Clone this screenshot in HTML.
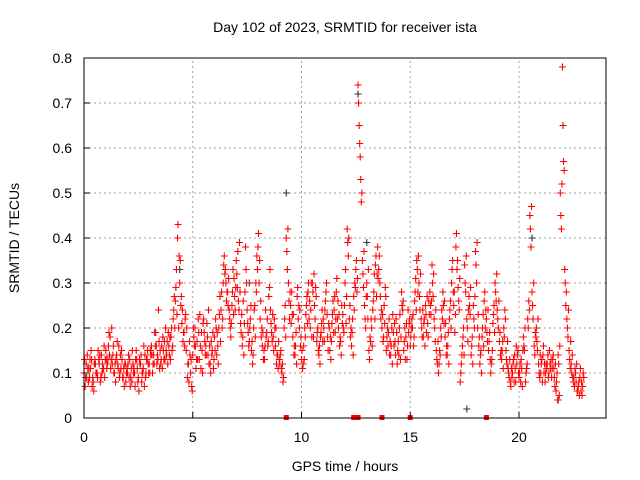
<!DOCTYPE html>
<html><head><meta charset="utf-8">
<style>
html,body{margin:0;padding:0;background:#fff;}
svg{display:block;font-family:"Liberation Sans",sans-serif;}
</style></head>
<body>
<svg id="chart" width="640" height="480" viewBox="0 0 640 480" xmlns="http://www.w3.org/2000/svg">
<rect width="640" height="480" fill="#fff"/>
<text x="345" y="32" font-size="14" text-anchor="middle">Day 102 of 2023, SRMTID for receiver ista</text>
<text x="345" y="471" font-size="14" text-anchor="middle">GPS time / hours</text>
<text x="19" y="238" font-size="14" text-anchor="middle" transform="rotate(-90 19 238)">SRMTID / TECUs</text>
<g id="grid"></g>
<g id="marks"></g>
<rect x="84" y="58" width="522" height="360" fill="none" stroke="#000" stroke-width="1"/>
<g id="axes"></g>
</svg>
<script>
const xTicks=[0,5,10,15,20];
const yTicks=[0,0.1,0.2,0.3,0.4,0.5,0.6,0.7,0.8];
const yTickLabels=["0","0.1","0.2","0.3","0.4","0.5","0.6","0.7","0.8"];
const valuesA=[0.10,0.12,0.08,0.11,0.09,0.13,0.10,0.12,0.14,0.11,
0.15,0.13,0.18,0.12,0.10,0.14,0.16,0.11,0.09,0.12,
0.10,0.13,0.08,0.11,0.15,0.09,0.12,0.10,0.14,0.13,
0.12,0.16,0.14,0.19,0.13,0.15,0.11,0.17,0.14,0.16,
0.18,0.22,0.26,0.40,0.30,0.21,0.19,0.15,0.12,0.10,
0.14,0.20,0.17,0.13,0.19,0.22,0.16,0.14,0.12,0.15,
0.18,0.14,0.20,0.24,0.30,0.33,0.28,0.22,0.25,0.31,
0.35,0.26,0.21,0.18,0.28,0.24,0.17,0.15,0.20,0.30,
0.38,0.22,0.16,0.13,0.19,0.27,0.21,0.18,0.16,0.14,
0.12,0.10,0.20,0.40,0.30,0.25,0.18,0.14,0.27,0.20,
0.13,0.16,0.23,0.28,0.20,0.30,0.25,0.17,0.14,0.19,
0.22,0.26,0.18,0.15,0.21,0.24,0.28,0.20,0.17,0.23,
0.30,0.42,0.22,0.16,0.27,0.33,0.74,0.58,0.35,0.25,
0.30,0.15,0.22,0.26,0.34,0.38,0.30,0.20,0.25,0.15,
0.19,0.14,0.23,0.17,0.12,0.20,0.28,0.15,0.18,0.24,
0.16,0.20,0.26,0.35,0.30,0.22,0.18,0.25,0.21,0.28,
0.34,0.22,0.15,0.10,0.20,0.28,0.18,0.14,0.22,0.30,
0.25,0.38,0.29,0.08,0.16,0.34,0.22,0.27,0.14,0.25,
0.37,0.20,0.12,0.18,0.26,0.22,0.15,0.10,0.21,0.30,
0.24,0.17,0.13,0.20,0.15,0.11,0.08,0.10,0.14,0.12,
0.09,0.13,0.18,0.08,0.22,0.45,0.28,0.16,0.20,0.12,
0.10,0.14,0.08,0.12,0.15,0.09,0.11,0.06,0.14,0.50,
0.78,0.33,0.22,0.15,0.12,0.08,0.10,0.06,0.09,0.05];
const valuesB=[0.07,0.14,0.09,0.13,0.06,0.10,0.15,0.08,0.12,0.09,
0.11,0.19,0.13,0.16,0.08,0.12,0.10,0.13,0.07,0.10,
0.14,0.09,0.12,0.07,0.11,0.13,0.08,0.16,0.10,0.12,
0.15,0.10,0.19,0.12,0.17,0.13,0.15,0.20,0.12,0.18,
0.15,0.27,0.33,0.20,0.25,0.17,0.22,0.09,0.17,0.07,
0.18,0.11,0.22,0.16,0.10,0.17,0.21,0.12,0.17,0.11,
0.22,0.16,0.27,0.20,0.36,0.26,0.31,0.18,0.33,0.24,
0.29,0.39,0.23,0.14,0.33,0.19,0.22,0.12,0.25,0.36,
0.30,0.18,0.13,0.24,0.16,0.33,0.17,0.22,0.12,0.17,
0.15,0.08,0.25,0.33,0.22,0.28,0.14,0.19,0.22,0.16,
0.11,0.20,0.27,0.22,0.30,0.18,0.29,0.20,0.12,0.24,
0.17,0.30,0.21,0.13,0.26,0.19,0.22,0.16,0.25,0.19,
0.21,0.36,0.18,0.22,0.30,0.28,0.65,0.48,0.29,0.20,
0.22,0.18,0.16,0.32,0.27,0.33,0.22,0.17,0.29,0.20,
0.14,0.20,0.16,0.22,0.17,0.13,0.24,0.20,0.13,0.21,
0.20,0.16,0.31,0.28,0.24,0.18,0.22,0.19,0.26,0.23,
0.27,0.17,0.12,0.15,0.24,0.21,0.14,0.19,0.26,0.35,
0.19,0.33,0.24,0.12,0.20,0.28,0.17,0.23,0.18,0.20,
0.30,0.16,0.15,0.23,0.20,0.17,0.19,0.13,0.25,0.26,
0.20,0.14,0.17,0.24,0.12,0.09,0.11,0.13,0.08,0.15,
0.12,0.07,0.15,0.11,0.26,0.38,0.22,0.19,0.15,0.09,
0.13,0.10,0.12,0.09,0.11,0.13,0.07,0.10,0.05,0.42,
0.57,0.25,0.18,0.11,0.14,0.07,0.12,0.08,0.06,0.10];
const valuesC=[0.13,0.09,0.11,0.15,0.08,0.12,0.09,0.14,0.10,0.16,
0.13,0.16,0.11,0.14,0.12,0.17,0.09,0.15,0.11,0.08,
0.12,0.07,0.15,0.10,0.13,0.06,0.14,0.11,0.09,0.15,
0.10,0.14,0.12,0.16,0.24,0.12,0.18,0.13,0.17,0.14,
0.20,0.24,0.29,0.43,0.35,0.24,0.16,0.20,0.08,0.13,
0.20,0.16,0.13,0.23,0.15,0.19,0.14,0.24,0.10,0.19,
0.15,0.19,0.23,0.28,0.34,0.30,0.25,0.20,0.28,0.27,
0.32,0.24,0.19,0.26,0.38,0.21,0.20,0.17,0.24,0.28,
0.41,0.26,0.19,0.16,0.22,0.29,0.19,0.15,0.20,0.11,
0.14,0.12,0.22,0.37,0.26,0.21,0.23,0.16,0.29,0.24,
0.15,0.13,0.25,0.30,0.24,0.28,0.22,0.19,0.16,0.21,
0.20,0.28,0.15,0.18,0.23,0.27,0.31,0.23,0.14,0.20,
0.33,0.39,0.25,0.19,0.24,0.35,0.70,0.53,0.32,0.22,
0.27,0.13,0.20,0.28,0.36,0.31,0.27,0.23,0.21,0.18,
0.22,0.16,0.19,0.14,0.15,0.23,0.25,0.17,0.21,0.19,
0.18,0.23,0.28,0.33,0.27,0.20,0.21,0.23,0.18,0.25,
0.30,0.20,0.13,0.12,0.18,0.25,0.21,0.16,0.24,0.33,
0.28,0.41,0.26,0.10,0.18,0.30,0.20,0.25,0.16,0.22,
0.34,0.23,0.14,0.20,0.28,0.19,0.17,0.12,0.23,0.28,
0.22,0.19,0.15,0.18,0.13,0.10,0.07,0.12,0.11,0.14,
0.10,0.11,0.16,0.10,0.20,0.42,0.25,0.14,0.17,0.10,
0.12,0.16,0.10,0.14,0.12,0.11,0.09,0.08,0.12,0.45,
0.65,0.30,0.20,0.13,0.10,0.09,0.08,0.07,0.11,0.07];
const valuesD=[0.09,0.11,0.13,0.07,0.12,0.10,0.13,0.09,0.11,0.13,
0.12,0.14,0.20,0.10,0.13,0.11,0.14,0.09,0.12,0.11,
0.09,0.11,0.10,0.13,0.08,0.12,0.10,0.07,0.13,0.10,
0.14,0.12,0.16,0.14,0.11,0.16,0.13,0.15,0.19,0.13,
0.16,0.20,0.23,0.36,0.27,0.19,0.23,0.12,0.14,0.06,
0.16,0.13,0.19,0.11,0.21,0.14,0.18,0.16,0.14,0.13,
0.20,0.12,0.17,0.22,0.32,0.28,0.24,0.21,0.23,0.29,
0.37,0.28,0.16,0.21,0.30,0.16,0.25,0.14,0.18,0.33,
0.35,0.20,0.15,0.18,0.17,0.24,0.23,0.20,0.14,0.13,
0.11,0.09,0.18,0.42,0.28,0.23,0.16,0.12,0.25,0.18,
0.12,0.18,0.21,0.26,0.18,0.32,0.27,0.15,0.18,0.17,
0.24,0.23,0.20,0.17,0.19,0.22,0.26,0.18,0.21,0.25,
0.27,0.40,0.20,0.14,0.29,0.31,0.61,0.50,0.37,0.27,
0.33,0.17,0.24,0.22,0.32,0.36,0.24,0.18,0.27,0.16,
0.17,0.12,0.21,0.19,0.14,0.18,0.26,0.13,0.16,0.22,
0.22,0.18,0.24,0.36,0.32,0.24,0.16,0.27,0.23,0.26,
0.32,0.24,0.17,0.14,0.22,0.26,0.16,0.12,0.20,0.28,
0.23,0.35,0.31,0.14,0.14,0.36,0.24,0.29,0.12,0.27,
0.39,0.18,0.10,0.16,0.24,0.24,0.13,0.15,0.19,0.32,
0.26,0.15,0.11,0.22,0.17,0.13,0.09,0.08,0.16,0.10,
0.08,0.15,0.20,0.12,0.24,0.47,0.30,0.18,0.22,0.14,
0.08,0.12,0.11,0.10,0.13,0.14,0.12,0.04,0.16,0.52,
0.55,0.28,0.24,0.17,0.09,0.11,0.06,0.05,0.08,0.09];
const blackTimes=[9.3,12.6,13.0,17.6,20.6,21.8,4.4,7.6];
const blackValues=[0.50,0.72,0.39,0.02,0.40,0.04,0.33,0.30];
const gapTimes=[9.3,12.4,12.5,12.6,13.7,15.0,18.5];

const X0=84,X1=606,Y0=418,Y1=58,XMAX=24,YMAX=0.8;
function xs(t){return X0+(X1-X0)*t/XMAX;}
function ys(v){return Y0-(Y0-Y1)*v/YMAX;}
const NS="http://www.w3.org/2000/svg";
const grid=document.getElementById('grid'),marks=document.getElementById('marks'),axes=document.getElementById('axes');
function mk(tag,attrs,parent){const e=document.createElementNS(NS,tag);for(const k in attrs)e.setAttribute(k,attrs[k]);parent.appendChild(e);return e;}
xTicks.forEach(t=>{
  const x=xs(t);
  if(t>0){const g=mk('line',{x1:x,y1:Y0,x2:x,y2:Y1,stroke:'#a0a0a0','stroke-dasharray':'2,3'},grid);
  
  }
  const tk=mk('line',{x1:x,y1:Y0,x2:x,y2:Y0-6,stroke:'#000'},axes);
  
  
  const lb=mk('text',{x:x,y:Y0+24,'font-size':14,'text-anchor':'middle'},axes);
  lb.textContent=String(t);
  
  
});
yTicks.forEach((v,i)=>{
  const y=ys(v);
  if(v>0&&v<YMAX){const g=mk('line',{x1:X0,y1:y,x2:X1,y2:y,stroke:'#a0a0a0','stroke-dasharray':'2,3'},grid);
  
  }
  const tk=mk('line',{x1:X0,y1:y,x2:X0+6,y2:y,stroke:'#000'},axes);
  
  
  const lb=mk('text',{x:X0-12,y:y+5,'font-size':14,'text-anchor':'end'},axes);
  lb.textContent=yTickLabels[i];
  
  
});
function plus(t,v,color){
  const x=xs(t),y=ys(v);
  const p=mk('path',{d:`M${x-3.5},${y}H${x+3.5}M${x},${y-3.5}V${y+3.5}`,stroke:color,'stroke-width':1.1,fill:'none'},marks);
  
  
}
blackTimes.forEach((t,i)=>plus(t,blackValues[i],'#333'));
valuesA.forEach((v,i)=>plus(i*0.1,v,'#ff0000'));
valuesB.forEach((v,i)=>plus(i*0.1+0.05,v,'#ff0000'));
valuesC.forEach((v,i)=>plus(i*0.1+0.025,v,'#ff0000'));
valuesD.forEach((v,i)=>plus(i*0.1+0.075,v,'#ff0000'));
gapTimes.forEach(t=>{
  const r=mk('rect',{x:xs(t)-2.5,y:Y0-3,width:5,height:5,fill:'#ff0000'},marks);
  
  
});
</script>
</body></html>
